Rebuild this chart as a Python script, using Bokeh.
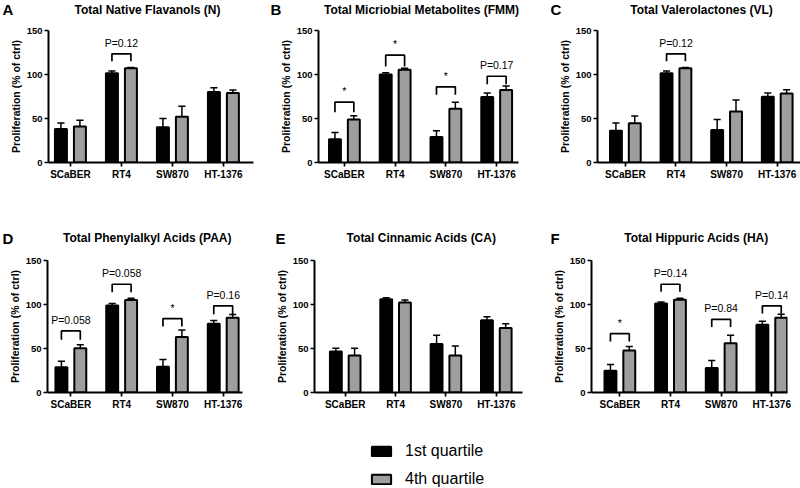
from bokeh.plotting import figure
from bokeh.models import ColumnDataSource, FixedTicker, Legend, LegendItem, Range1d
from bokeh.layouts import column, row
from bokeh.embed import file_html
from bokeh.resources import INLINE
from bokeh.core.properties import value

cell_lines = ["SCaBER", "RT4", "SW870", "HT-1376"]
y_ticks = [0, 50, 100, 150]
y_label = "Proliferation (% of ctrl)"
legend_labels = ["1st quartile", "4th quartile"]
panel_letters = ["A", "B", "C", "D", "E", "F"]

# Panel A
a_title = "Total Native Flavanols (N)"
a_q1 = [38, 101.5, 40, 80]
a_q1_sd = [7, 2.5, 10, 5]
a_q4 = [41, 107, 52, 79]
a_q4_sd = [7, 1, 12, 3.5]
a_br_group = [1]
a_br_top = [123.5]
a_br_leg = [115]
a_br_text = ["P=0.12"]

# Panel B
b_title = "Total Micriobial Metabolites (FMM)"
b_q1 = [26.5, 100, 29, 74.5]
b_q1_sd = [7.5, 2, 7, 4.5]
b_q4 = [49, 105.5, 61, 82.5]
b_q4_sd = [4, 1.5, 7.5, 4.5]
b_br_group = [0, 1, 2, 3]
b_br_top = [68.5, 122, 86, 98]
b_br_leg = [57, 109, 77, 89]
b_br_text = ["*", "*", "*", "P=0.17"]

# Panel C
c_title = "Total Valerolactones (VL)"
c_q1 = [36, 101.5, 37, 74.6]
c_q1_sd = [9, 2.5, 12, 4.4]
c_q4 = [44.7, 107, 58, 78.4]
c_q4_sd = [8, 1, 13, 4.2]
c_br_group = [1]
c_br_top = [123.5]
c_br_leg = [115]
c_br_text = ["P=0.12"]

# Panel D
d_title = "Total Phenylalkyl Acids (PAA)"
d_q1 = [28.6, 99, 29.4, 78]
d_q1_sd = [7, 2, 8, 3.7]
d_q4 = [50.4, 105, 63, 85]
d_q4_sd = [3.8, 2, 8, 3.5]
d_br_group = [0, 1, 2, 3]
d_br_top = [70, 123, 84, 98.5]
d_br_leg = [60, 114, 75, 89]
d_br_text = ["P=0.058", "P=0.058", "*", "P=0.16"]

# Panel E
e_title = "Total Cinnamic Acids (CA)"
e_q1 = [46.6, 106, 55, 82]
e_q1_sd = [3.8, 1.6, 10, 4]
e_q4 = [42, 102.3, 42, 73.3]
e_q4_sd = [8.4, 2.7, 10.7, 4.7]
e_br_group = []
e_br_top = []
e_br_leg = []
e_br_text = []

# Panel F
f_title = "Total Hippuric Acids (HA)"
f_q1 = [24.8, 101, 27.9, 77]
f_q1_sd = [6.9, 1.7, 8.4, 4]
f_q4 = [47.7, 105.3, 56, 85]
f_q4_sd = [4.6, 1.7, 9, 4]
f_br_group = [0, 1, 2, 3]
f_br_top = [66.8, 123, 83, 98.5]
f_br_leg = [58, 114.5, 74.4, 89.7]
f_br_text = ["*", "P=0.14", "P=0.84", "P=0.14"]

FONT = "Liberation Sans"
GRAY = "#9e9e9e"
OFF = 0.186
BW = 0.235
CAP = 0.07

# layout (pixels)
W = 800
HEAD1_H = 18
TOP_H, TOP_T, TOP_B = 208, 12, 64
HEAD2_H = 24
BOT_H, BOT_T, BOT_B = 162, 10, 20
LEG_H = 76
letter_x = [2, 270, 550, 2, 275, 550]
title_cx = [147, 421, 701, 147, 421, 696]


def make_panel(q1, q1sd, q4, q4sd, brg, brt, brl, brtxt,
               xr, width, left, right, height, top, bottom):
    p = figure(width=width, height=height, x_range=Range1d(*xr), y_range=Range1d(0, 150),
               output_backend="svg", toolbar_location=None,
               min_border_left=left, min_border_right=right,
               min_border_top=top, min_border_bottom=bottom)
    p.outline_line_color = None
    p.xgrid.visible = False
    p.ygrid.visible = False

    groups = list(range(1, len(cell_lines) + 1))
    for vals, sds, sign, color in ((q1, q1sd, -1, "black"), (q4, q4sd, 1, GRAY)):
        xs = [g + sign * OFF for g in groups]
        ups = [v + s for v, s in zip(vals, sds)]
        src = ColumnDataSource(dict(x=xs, top=vals, up=ups,
                                    cl=[x - CAP for x in xs], cr=[x + CAP for x in xs]))
        p.segment(x0="x", y0="top", x1="x", y1="up", source=src, line_color="black", line_width=1.5)
        p.segment(x0="cl", y0="up", x1="cr", y1="up", source=src, line_color="black", line_width=1.5)
        p.vbar(x="x", top="top", bottom=0, width=BW, source=src,
               fill_color=color, line_color="black", line_width=2)

    if brg:
        bxs = [[g + 1 - OFF, g + 1 - OFF, g + 1 + OFF, g + 1 + OFF] for g in brg]
        bys = [[l, t, t, l] for t, l in zip(brt, brl)]
        p.multi_line(xs=bxs, ys=bys, line_color="black", line_width=1.7)
        tsrc = ColumnDataSource(dict(x=[g + 1 for g in brg], y=brt, t=brtxt))
        p.text(x="x", y="y", text="t", source=tsrc, text_align="center",
               text_baseline="alphabetic", y_offset=-11,
               text_font=value(FONT), text_font_size=value("10.5px"), text_color="black")

    p.xaxis.ticker = FixedTicker(ticks=groups)
    p.xaxis.major_label_overrides = {g: n for g, n in zip(groups, cell_lines)}
    p.yaxis.ticker = FixedTicker(ticks=y_ticks)
    p.yaxis.axis_label = y_label
    for ax in (p.xaxis[0], p.yaxis[0]):
        ax.axis_line_width = 2
        ax.axis_line_color = "black"
        ax.major_tick_line_width = 1.7
        ax.major_tick_line_color = "black"
        ax.major_tick_out = 4
        ax.major_tick_in = 0
        ax.minor_tick_line_color = None
        ax.major_label_standoff = 2
        ax.major_label_text_font = FONT
        ax.major_label_text_font_style = "bold"
        ax.major_label_text_color = "black"
    p.xaxis.major_label_text_font_size = "10px"
    p.yaxis.major_label_text_font_size = "9.5px"
    p.yaxis.axis_label_text_font = FONT
    p.yaxis.axis_label_text_font_style = "bold"
    p.yaxis.axis_label_text_font_size = "10.5px"
    p.yaxis.axis_label_text_color = "black"
    p.yaxis.axis_label_standoff = 2
    return p


def make_header(height, letters, lxs, titles, txs, ymid):
    h = figure(width=W, height=height, output_backend="svg", toolbar_location=None,
               x_axis_type=None, y_axis_type=None,
               x_range=Range1d(0, W), y_range=Range1d(0, height),
               min_border_left=0, min_border_right=0, min_border_top=0, min_border_bottom=0)
    h.outline_line_color = None
    h.xgrid.visible = False
    h.ygrid.visible = False
    h.text(x=lxs, y=[ymid] * len(letters), text=letters, text_align="left",
           text_baseline="middle", text_font=value(FONT), text_font_size=value("15px"),
           text_font_style="bold", text_color="black")
    h.text(x=txs, y=[ymid] * len(titles), text=titles, text_align="center",
           text_baseline="middle", text_font=value(FONT), text_font_size=value("12px"),
           text_font_style="bold", text_color="black")
    return h


pA = make_panel(a_q1, a_q1_sd, a_q4, a_q4_sd, a_br_group, a_br_top, a_br_leg, a_br_text,
                (0.57, 4.59), 265, 48, 12, TOP_H, TOP_T, TOP_B)
pB = make_panel(b_q1, b_q1_sd, b_q4, b_q4_sd, b_br_group, b_br_top, b_br_leg, b_br_text,
                (0.49, 4.43), 265, 53, 12, TOP_H, TOP_T, TOP_B)
pC = make_panel(c_q1, c_q1_sd, c_q4, c_q4_sd, c_br_group, c_br_top, c_br_leg, c_br_text,
                (0.45, 4.46), 270, 67, 0, TOP_H, TOP_T, TOP_B)
pD = make_panel(d_q1, d_q1_sd, d_q4, d_q4_sd, d_br_group, d_br_top, d_br_leg, d_br_text,
                (0.54, 4.38), 265, 47, 23, BOT_H, BOT_T, BOT_B)
pE = make_panel(e_q1, e_q1_sd, e_q4, e_q4_sd, e_br_group, e_br_top, e_br_leg, e_br_text,
                (0.39, 4.52), 265, 49, 8, BOT_H, BOT_T, BOT_B)
pF = make_panel(f_q1, f_q1_sd, f_q4, f_q4_sd, f_br_group, f_br_top, f_br_leg, f_br_text,
                (0.44, 4.31), 270, 61, 13, BOT_H, BOT_T, BOT_B)

h1 = make_header(HEAD1_H, panel_letters[:3], letter_x[:3], [a_title, b_title, c_title],
                 title_cx[:3], HEAD1_H - 9)
h2 = make_header(HEAD2_H, panel_letters[3:], letter_x[3:], [d_title, e_title, f_title],
                 title_cx[3:], HEAD2_H - 11.5)

# legend figure
pl = figure(width=W, height=LEG_H, output_backend="svg", toolbar_location=None,
            x_axis_type=None, y_axis_type=None, x_range=Range1d(0, 1), y_range=Range1d(0, 1),
            min_border_left=0, min_border_right=0, min_border_top=0, min_border_bottom=0)
pl.outline_line_color = None
pl.xgrid.visible = False
pl.ygrid.visible = False
r1 = pl.vbar(x=[0.5], top=[1], width=0.1, fill_color="black", line_color="black", line_width=2)
r2 = pl.vbar(x=[0.5], top=[1], width=0.1, fill_color=GRAY, line_color="black", line_width=2)
r1.visible = False
r2.visible = False
leg = Legend(items=[LegendItem(label=legend_labels[0], renderers=[r1]),
                    LegendItem(label=legend_labels[1], renderers=[r2])],
             location=(369, 0), orientation="vertical",
             glyph_width=24, glyph_height=12, label_standoff=12, label_height=18,
             label_text_font=FONT, label_text_font_size="16px", label_text_color="black",
             padding=0, margin=0, spacing=10, border_line_color=None,
             background_fill_alpha=0, inactive_fill_alpha=0)
pl.add_layout(leg)

layout = column(h1, row(pA, pB, pC), h2, row(pD, pE, pF), pl)

with open("out.html", "w") as fh:
    fh.write(file_html(layout, INLINE))
